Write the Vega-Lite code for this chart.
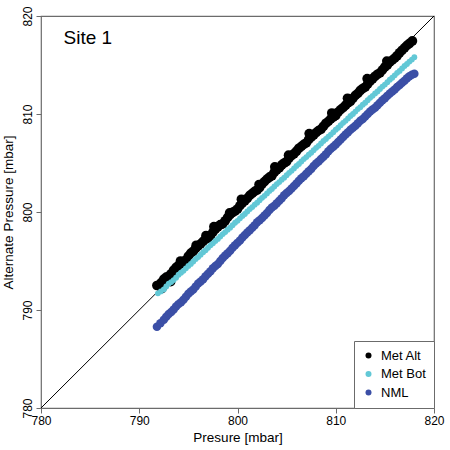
{
  "$schema": "https://vega.github.io/schema/vega-lite/v6.json",
  "width": 393,
  "height": 392,
  "autosize": {"type": "none"},
  "padding": {"left": 41, "top": 16, "right": 16, "bottom": 42},
  "config": {
    "font": "Liberation Sans",
    "view": {"stroke": "#6b6b6b", "strokeWidth": 1.2},
    "axis": {
      "grid": false,
      "domain": false,
      "tickColor": "#6b6b6b",
      "tickSize": 5,
      "labelFontSize": 12,
      "labelColor": "#000000",
      "titleFontSize": 13.5,
      "titleFontWeight": "normal",
      "titleColor": "#000000",
      "labelOverlap": false,
      "labelFlush": false,
      "labelBound": false
    }
  },
  "datasets": {
    "pts": [
      {"s": "Met Alt", "x": 791.8, "y": 792.5},
      {"s": "Met Alt", "x": 792.0, "y": 792.55},
      {"s": "Met Alt", "x": 792.25, "y": 792.8},
      {"s": "Met Alt", "x": 792.3, "y": 792.2},
      {"s": "Met Alt", "x": 792.5, "y": 793.15},
      {"s": "Met Alt", "x": 792.75, "y": 793.35},
      {"s": "Met Alt", "x": 793.0, "y": 793.45},
      {"s": "Met Alt", "x": 793.2, "y": 792.9},
      {"s": "Met Alt", "x": 793.25, "y": 793.7},
      {"s": "Met Alt", "x": 793.5, "y": 794.05},
      {"s": "Met Alt", "x": 793.75, "y": 794.35},
      {"s": "Met Alt", "x": 794.0, "y": 794.55},
      {"s": "Met Alt", "x": 794.2, "y": 795.0},
      {"s": "Met Alt", "x": 794.25, "y": 794.75},
      {"s": "Met Alt", "x": 794.5, "y": 794.85},
      {"s": "Met Alt", "x": 794.75, "y": 795.1},
      {"s": "Met Alt", "x": 795.0, "y": 795.5},
      {"s": "Met Alt", "x": 795.25, "y": 795.8},
      {"s": "Met Alt", "x": 795.5, "y": 796.0},
      {"s": "Met Alt", "x": 795.75, "y": 796.3},
      {"s": "Met Alt", "x": 795.8, "y": 796.6},
      {"s": "Met Alt", "x": 796.0, "y": 796.55},
      {"s": "Met Alt", "x": 796.25, "y": 796.75},
      {"s": "Met Alt", "x": 796.5, "y": 797.0},
      {"s": "Met Alt", "x": 796.75, "y": 797.25},
      {"s": "Met Alt", "x": 796.8, "y": 797.6},
      {"s": "Met Alt", "x": 797.0, "y": 797.35},
      {"s": "Met Alt", "x": 797.25, "y": 797.6},
      {"s": "Met Alt", "x": 797.5, "y": 797.95},
      {"s": "Met Alt", "x": 797.6, "y": 798.5},
      {"s": "Met Alt", "x": 797.75, "y": 798.25},
      {"s": "Met Alt", "x": 798.0, "y": 798.5},
      {"s": "Met Alt", "x": 798.25, "y": 798.7},
      {"s": "Met Alt", "x": 798.5, "y": 798.8},
      {"s": "Met Alt", "x": 798.75, "y": 799.1},
      {"s": "Met Alt", "x": 799.0, "y": 799.45},
      {"s": "Met Alt", "x": 799.2, "y": 799.9},
      {"s": "Met Alt", "x": 799.25, "y": 799.75},
      {"s": "Met Alt", "x": 799.5, "y": 799.95},
      {"s": "Met Alt", "x": 799.75, "y": 800.1},
      {"s": "Met Alt", "x": 800.0, "y": 800.3},
      {"s": "Met Alt", "x": 800.25, "y": 800.65},
      {"s": "Met Alt", "x": 800.4, "y": 801.3},
      {"s": "Met Alt", "x": 800.5, "y": 800.95},
      {"s": "Met Alt", "x": 800.75, "y": 801.15},
      {"s": "Met Alt", "x": 801.0, "y": 801.4},
      {"s": "Met Alt", "x": 801.25, "y": 801.7},
      {"s": "Met Alt", "x": 801.5, "y": 801.9},
      {"s": "Met Alt", "x": 801.75, "y": 802.1},
      {"s": "Met Alt", "x": 802.0, "y": 802.25},
      {"s": "Met Alt", "x": 802.2, "y": 802.8},
      {"s": "Met Alt", "x": 802.25, "y": 802.5},
      {"s": "Met Alt", "x": 802.5, "y": 802.85},
      {"s": "Met Alt", "x": 802.75, "y": 803.1},
      {"s": "Met Alt", "x": 803.0, "y": 803.35},
      {"s": "Met Alt", "x": 803.25, "y": 803.55},
      {"s": "Met Alt", "x": 803.5, "y": 803.7},
      {"s": "Met Alt", "x": 803.75, "y": 804.05},
      {"s": "Met Alt", "x": 803.8, "y": 804.6},
      {"s": "Met Alt", "x": 804.0, "y": 804.3},
      {"s": "Met Alt", "x": 804.25, "y": 804.5},
      {"s": "Met Alt", "x": 804.5, "y": 804.8},
      {"s": "Met Alt", "x": 804.75, "y": 805.0},
      {"s": "Met Alt", "x": 805.0, "y": 805.15},
      {"s": "Met Alt", "x": 805.2, "y": 805.8},
      {"s": "Met Alt", "x": 805.25, "y": 805.5},
      {"s": "Met Alt", "x": 805.5, "y": 805.75},
      {"s": "Met Alt", "x": 805.75, "y": 805.95},
      {"s": "Met Alt", "x": 806.0, "y": 806.2},
      {"s": "Met Alt", "x": 806.25, "y": 806.5},
      {"s": "Met Alt", "x": 806.5, "y": 806.7},
      {"s": "Met Alt", "x": 806.75, "y": 806.9},
      {"s": "Met Alt", "x": 807.0, "y": 807.05},
      {"s": "Met Alt", "x": 807.25, "y": 807.4},
      {"s": "Met Alt", "x": 807.3, "y": 808.0},
      {"s": "Met Alt", "x": 807.5, "y": 807.65},
      {"s": "Met Alt", "x": 807.75, "y": 807.85},
      {"s": "Met Alt", "x": 808.0, "y": 808.1},
      {"s": "Met Alt", "x": 808.25, "y": 808.3},
      {"s": "Met Alt", "x": 808.5, "y": 808.45},
      {"s": "Met Alt", "x": 808.75, "y": 808.75},
      {"s": "Met Alt", "x": 809.0, "y": 809.05},
      {"s": "Met Alt", "x": 809.25, "y": 809.25},
      {"s": "Met Alt", "x": 809.5, "y": 809.5},
      {"s": "Met Alt", "x": 809.6, "y": 810.1},
      {"s": "Met Alt", "x": 809.75, "y": 809.7},
      {"s": "Met Alt", "x": 810.0, "y": 809.85},
      {"s": "Met Alt", "x": 810.25, "y": 810.2},
      {"s": "Met Alt", "x": 810.5, "y": 810.45},
      {"s": "Met Alt", "x": 810.75, "y": 810.65},
      {"s": "Met Alt", "x": 811.0, "y": 810.9},
      {"s": "Met Alt", "x": 811.2, "y": 811.6},
      {"s": "Met Alt", "x": 811.25, "y": 811.15},
      {"s": "Met Alt", "x": 811.5, "y": 811.3},
      {"s": "Met Alt", "x": 811.75, "y": 811.6},
      {"s": "Met Alt", "x": 812.0, "y": 811.9},
      {"s": "Met Alt", "x": 812.25, "y": 812.1},
      {"s": "Met Alt", "x": 812.5, "y": 812.4},
      {"s": "Met Alt", "x": 812.75, "y": 812.6},
      {"s": "Met Alt", "x": 813.0, "y": 812.75},
      {"s": "Met Alt", "x": 813.2, "y": 813.6},
      {"s": "Met Alt", "x": 813.25, "y": 813.05},
      {"s": "Met Alt", "x": 813.5, "y": 813.35},
      {"s": "Met Alt", "x": 813.75, "y": 813.6},
      {"s": "Met Alt", "x": 814.0, "y": 813.85},
      {"s": "Met Alt", "x": 814.25, "y": 814.05},
      {"s": "Met Alt", "x": 814.5, "y": 814.2},
      {"s": "Met Alt", "x": 814.75, "y": 814.5},
      {"s": "Met Alt", "x": 815.0, "y": 814.8},
      {"s": "Met Alt", "x": 815.2, "y": 815.4},
      {"s": "Met Alt", "x": 815.25, "y": 815.0},
      {"s": "Met Alt", "x": 815.5, "y": 815.3},
      {"s": "Met Alt", "x": 815.75, "y": 815.5},
      {"s": "Met Alt", "x": 816.0, "y": 815.7},
      {"s": "Met Alt", "x": 816.25, "y": 815.95},
      {"s": "Met Alt", "x": 816.5, "y": 816.25},
      {"s": "Met Alt", "x": 816.75, "y": 816.5},
      {"s": "Met Alt", "x": 817.0, "y": 816.75},
      {"s": "Met Alt", "x": 817.25, "y": 817.0},
      {"s": "Met Alt", "x": 817.5, "y": 817.2},
      {"s": "Met Alt", "x": 817.8, "y": 817.45},
      {"s": "Met Bot", "x": 791.9, "y": 791.7},
      {"s": "Met Bot", "x": 792.2, "y": 791.9},
      {"s": "Met Bot", "x": 792.5, "y": 792.1},
      {"s": "Met Bot", "x": 792.75, "y": 792.4},
      {"s": "Met Bot", "x": 793.0, "y": 792.7},
      {"s": "Met Bot", "x": 793.25, "y": 792.85},
      {"s": "Met Bot", "x": 793.5, "y": 793.05},
      {"s": "Met Bot", "x": 793.75, "y": 793.3},
      {"s": "Met Bot", "x": 794.0, "y": 793.6},
      {"s": "Met Bot", "x": 794.25, "y": 793.8},
      {"s": "Met Bot", "x": 794.5, "y": 794.0},
      {"s": "Met Bot", "x": 794.75, "y": 794.25},
      {"s": "Met Bot", "x": 795.0, "y": 794.5},
      {"s": "Met Bot", "x": 795.25, "y": 794.7},
      {"s": "Met Bot", "x": 795.5, "y": 794.95},
      {"s": "Met Bot", "x": 795.75, "y": 795.2},
      {"s": "Met Bot", "x": 796.0, "y": 795.4},
      {"s": "Met Bot", "x": 796.25, "y": 795.65},
      {"s": "Met Bot", "x": 796.5, "y": 795.9},
      {"s": "Met Bot", "x": 796.75, "y": 796.1},
      {"s": "Met Bot", "x": 797.0, "y": 796.35},
      {"s": "Met Bot", "x": 797.25, "y": 796.6},
      {"s": "Met Bot", "x": 797.5, "y": 796.8},
      {"s": "Met Bot", "x": 797.75, "y": 797.05},
      {"s": "Met Bot", "x": 798.0, "y": 797.25},
      {"s": "Met Bot", "x": 798.25, "y": 797.5},
      {"s": "Met Bot", "x": 798.5, "y": 797.75},
      {"s": "Met Bot", "x": 798.75, "y": 797.95},
      {"s": "Met Bot", "x": 799.0, "y": 798.2},
      {"s": "Met Bot", "x": 799.25, "y": 798.4},
      {"s": "Met Bot", "x": 799.5, "y": 798.65},
      {"s": "Met Bot", "x": 799.75, "y": 798.9},
      {"s": "Met Bot", "x": 800.0, "y": 799.1},
      {"s": "Met Bot", "x": 800.25, "y": 799.35},
      {"s": "Met Bot", "x": 800.5, "y": 799.6},
      {"s": "Met Bot", "x": 800.75, "y": 799.8},
      {"s": "Met Bot", "x": 801.0, "y": 800.05},
      {"s": "Met Bot", "x": 801.25, "y": 800.3},
      {"s": "Met Bot", "x": 801.5, "y": 800.5},
      {"s": "Met Bot", "x": 801.75, "y": 800.75},
      {"s": "Met Bot", "x": 802.0, "y": 800.95},
      {"s": "Met Bot", "x": 802.25, "y": 801.2},
      {"s": "Met Bot", "x": 802.5, "y": 801.45},
      {"s": "Met Bot", "x": 802.75, "y": 801.65},
      {"s": "Met Bot", "x": 803.0, "y": 801.9},
      {"s": "Met Bot", "x": 803.25, "y": 802.15},
      {"s": "Met Bot", "x": 803.5, "y": 802.35},
      {"s": "Met Bot", "x": 803.75, "y": 802.6},
      {"s": "Met Bot", "x": 804.0, "y": 802.85},
      {"s": "Met Bot", "x": 804.25, "y": 803.05},
      {"s": "Met Bot", "x": 804.5, "y": 803.3},
      {"s": "Met Bot", "x": 804.75, "y": 803.5},
      {"s": "Met Bot", "x": 805.0, "y": 803.75},
      {"s": "Met Bot", "x": 805.25, "y": 804.0},
      {"s": "Met Bot", "x": 805.5, "y": 804.2},
      {"s": "Met Bot", "x": 805.75, "y": 804.45},
      {"s": "Met Bot", "x": 806.0, "y": 804.7},
      {"s": "Met Bot", "x": 806.25, "y": 804.9},
      {"s": "Met Bot", "x": 806.5, "y": 805.15},
      {"s": "Met Bot", "x": 806.75, "y": 805.4},
      {"s": "Met Bot", "x": 807.0, "y": 805.6},
      {"s": "Met Bot", "x": 807.25, "y": 805.85},
      {"s": "Met Bot", "x": 807.5, "y": 806.05},
      {"s": "Met Bot", "x": 807.75, "y": 806.3},
      {"s": "Met Bot", "x": 808.0, "y": 806.55},
      {"s": "Met Bot", "x": 808.25, "y": 806.75},
      {"s": "Met Bot", "x": 808.5, "y": 807.0},
      {"s": "Met Bot", "x": 808.75, "y": 807.25},
      {"s": "Met Bot", "x": 809.0, "y": 807.45},
      {"s": "Met Bot", "x": 809.25, "y": 807.7},
      {"s": "Met Bot", "x": 809.5, "y": 807.9},
      {"s": "Met Bot", "x": 809.75, "y": 808.15},
      {"s": "Met Bot", "x": 810.0, "y": 808.4},
      {"s": "Met Bot", "x": 810.25, "y": 808.6},
      {"s": "Met Bot", "x": 810.5, "y": 808.85},
      {"s": "Met Bot", "x": 810.75, "y": 809.1},
      {"s": "Met Bot", "x": 811.0, "y": 809.3},
      {"s": "Met Bot", "x": 811.25, "y": 809.55},
      {"s": "Met Bot", "x": 811.5, "y": 809.8},
      {"s": "Met Bot", "x": 811.75, "y": 810.0},
      {"s": "Met Bot", "x": 812.0, "y": 810.25},
      {"s": "Met Bot", "x": 812.25, "y": 810.5},
      {"s": "Met Bot", "x": 812.5, "y": 810.7},
      {"s": "Met Bot", "x": 812.75, "y": 810.95},
      {"s": "Met Bot", "x": 813.0, "y": 811.15},
      {"s": "Met Bot", "x": 813.25, "y": 811.4},
      {"s": "Met Bot", "x": 813.5, "y": 811.65},
      {"s": "Met Bot", "x": 813.75, "y": 811.85},
      {"s": "Met Bot", "x": 814.0, "y": 812.1},
      {"s": "Met Bot", "x": 814.25, "y": 812.3},
      {"s": "Met Bot", "x": 814.5, "y": 812.55},
      {"s": "Met Bot", "x": 814.75, "y": 812.8},
      {"s": "Met Bot", "x": 815.0, "y": 813.0},
      {"s": "Met Bot", "x": 815.25, "y": 813.25},
      {"s": "Met Bot", "x": 815.5, "y": 813.5},
      {"s": "Met Bot", "x": 815.75, "y": 813.7},
      {"s": "Met Bot", "x": 816.0, "y": 813.95},
      {"s": "Met Bot", "x": 816.25, "y": 814.2},
      {"s": "Met Bot", "x": 816.5, "y": 814.4},
      {"s": "Met Bot", "x": 816.75, "y": 814.65},
      {"s": "Met Bot", "x": 817.0, "y": 814.9},
      {"s": "Met Bot", "x": 817.25, "y": 815.1},
      {"s": "Met Bot", "x": 817.5, "y": 815.35},
      {"s": "Met Bot", "x": 817.75, "y": 815.55},
      {"s": "Met Bot", "x": 818.0, "y": 815.8},
      {"s": "NML", "x": 791.8, "y": 788.3},
      {"s": "NML", "x": 792.15, "y": 788.65},
      {"s": "NML", "x": 792.5, "y": 789.0},
      {"s": "NML", "x": 792.75, "y": 789.3},
      {"s": "NML", "x": 793.0, "y": 789.6},
      {"s": "NML", "x": 793.25, "y": 789.8},
      {"s": "NML", "x": 793.5, "y": 790.05},
      {"s": "NML", "x": 793.75, "y": 790.35},
      {"s": "NML", "x": 794.0, "y": 790.6},
      {"s": "NML", "x": 794.25, "y": 790.8},
      {"s": "NML", "x": 794.5, "y": 791.05},
      {"s": "NML", "x": 794.75, "y": 791.35},
      {"s": "NML", "x": 795.0, "y": 791.65},
      {"s": "NML", "x": 795.25, "y": 791.9},
      {"s": "NML", "x": 795.5, "y": 792.1},
      {"s": "NML", "x": 795.75, "y": 792.4},
      {"s": "NML", "x": 796.0, "y": 792.7},
      {"s": "NML", "x": 796.25, "y": 792.9},
      {"s": "NML", "x": 796.5, "y": 793.15},
      {"s": "NML", "x": 796.75, "y": 793.45},
      {"s": "NML", "x": 797.0, "y": 793.7},
      {"s": "NML", "x": 797.25, "y": 793.95},
      {"s": "NML", "x": 797.5, "y": 794.25},
      {"s": "NML", "x": 797.75, "y": 794.5},
      {"s": "NML", "x": 798.0, "y": 794.7},
      {"s": "NML", "x": 798.25, "y": 795.0},
      {"s": "NML", "x": 798.5, "y": 795.3},
      {"s": "NML", "x": 798.75, "y": 795.55},
      {"s": "NML", "x": 799.0, "y": 795.8},
      {"s": "NML", "x": 799.25, "y": 796.05},
      {"s": "NML", "x": 799.5, "y": 796.35},
      {"s": "NML", "x": 799.75, "y": 796.6},
      {"s": "NML", "x": 800.0, "y": 796.85},
      {"s": "NML", "x": 800.25, "y": 797.1},
      {"s": "NML", "x": 800.5, "y": 797.4},
      {"s": "NML", "x": 800.75, "y": 797.65},
      {"s": "NML", "x": 801.0, "y": 797.9},
      {"s": "NML", "x": 801.25, "y": 798.15},
      {"s": "NML", "x": 801.5, "y": 798.4},
      {"s": "NML", "x": 801.75, "y": 798.65},
      {"s": "NML", "x": 802.0, "y": 798.95},
      {"s": "NML", "x": 802.25, "y": 799.15},
      {"s": "NML", "x": 802.5, "y": 799.4},
      {"s": "NML", "x": 802.75, "y": 799.65},
      {"s": "NML", "x": 803.0, "y": 799.9},
      {"s": "NML", "x": 803.25, "y": 800.2},
      {"s": "NML", "x": 803.5, "y": 800.45},
      {"s": "NML", "x": 803.75, "y": 800.65},
      {"s": "NML", "x": 804.0, "y": 800.9},
      {"s": "NML", "x": 804.25, "y": 801.15},
      {"s": "NML", "x": 804.5, "y": 801.4},
      {"s": "NML", "x": 804.75, "y": 801.7},
      {"s": "NML", "x": 805.0, "y": 801.95},
      {"s": "NML", "x": 805.25, "y": 802.15},
      {"s": "NML", "x": 805.5, "y": 802.4},
      {"s": "NML", "x": 805.75, "y": 802.65},
      {"s": "NML", "x": 806.0, "y": 802.9},
      {"s": "NML", "x": 806.25, "y": 803.2},
      {"s": "NML", "x": 806.5, "y": 803.45},
      {"s": "NML", "x": 806.75, "y": 803.65},
      {"s": "NML", "x": 807.0, "y": 803.9},
      {"s": "NML", "x": 807.25, "y": 804.15},
      {"s": "NML", "x": 807.5, "y": 804.4},
      {"s": "NML", "x": 807.75, "y": 804.7},
      {"s": "NML", "x": 808.0, "y": 804.95},
      {"s": "NML", "x": 808.25, "y": 805.15},
      {"s": "NML", "x": 808.5, "y": 805.4},
      {"s": "NML", "x": 808.75, "y": 805.65},
      {"s": "NML", "x": 809.0, "y": 805.9},
      {"s": "NML", "x": 809.25, "y": 806.2},
      {"s": "NML", "x": 809.5, "y": 806.45},
      {"s": "NML", "x": 809.75, "y": 806.65},
      {"s": "NML", "x": 810.0, "y": 806.9},
      {"s": "NML", "x": 810.25, "y": 807.15},
      {"s": "NML", "x": 810.5, "y": 807.4},
      {"s": "NML", "x": 810.75, "y": 807.65},
      {"s": "NML", "x": 811.0, "y": 807.9},
      {"s": "NML", "x": 811.25, "y": 808.15},
      {"s": "NML", "x": 811.5, "y": 808.4},
      {"s": "NML", "x": 811.75, "y": 808.6},
      {"s": "NML", "x": 812.0, "y": 808.8},
      {"s": "NML", "x": 812.25, "y": 809.05},
      {"s": "NML", "x": 812.5, "y": 809.3},
      {"s": "NML", "x": 812.75, "y": 809.5},
      {"s": "NML", "x": 813.0, "y": 809.75},
      {"s": "NML", "x": 813.25, "y": 810.0},
      {"s": "NML", "x": 813.5, "y": 810.25},
      {"s": "NML", "x": 813.75, "y": 810.45},
      {"s": "NML", "x": 814.0, "y": 810.65},
      {"s": "NML", "x": 814.25, "y": 810.9},
      {"s": "NML", "x": 814.5, "y": 811.15},
      {"s": "NML", "x": 814.75, "y": 811.4},
      {"s": "NML", "x": 815.0, "y": 811.6},
      {"s": "NML", "x": 815.25, "y": 811.85},
      {"s": "NML", "x": 815.5, "y": 812.1},
      {"s": "NML", "x": 815.75, "y": 812.3},
      {"s": "NML", "x": 816.0, "y": 812.5},
      {"s": "NML", "x": 816.25, "y": 812.75},
      {"s": "NML", "x": 816.5, "y": 812.95},
      {"s": "NML", "x": 816.75, "y": 813.2},
      {"s": "NML", "x": 817.0, "y": 813.4},
      {"s": "NML", "x": 817.25, "y": 813.65},
      {"s": "NML", "x": 817.5, "y": 813.85},
      {"s": "NML", "x": 817.75, "y": 814.0},
      {"s": "NML", "x": 818.0, "y": 814.1}
    ],
    "diag": [
      {"x": 780, "y": 780},
      {"x": 820, "y": 820}
    ],
    "note": [
      {"label": "Site 1", "x": 782.3, "y": 817.8}
    ]
  },
  "encoding": {
    "x": {
      "field": "x",
      "type": "quantitative",
      "title": "Presure [mbar]",
      "scale": {"domain": [780, 820], "nice": false, "zero": false},
      "axis": {"values": [780, 790, 800, 810, 820], "labelPadding": 2, "titlePadding": 4}
    },
    "y": {
      "field": "y",
      "type": "quantitative",
      "title": "Alternate Pressure [mbar]",
      "scale": {"domain": [780, 820], "nice": false, "zero": false},
      "axis": {
        "values": [780, 790, 800, 810, 820],
        "labelAngle": -90,
        "labelAlign": "center",
        "labelBaseline": "bottom",
        "labelPadding": 2,
        "titlePadding": 6
      }
    }
  },
  "layer": [
    {
      "data": {"name": "diag"},
      "mark": {"type": "line", "color": "#000000", "strokeWidth": 1, "clip": true}
    },
    {
      "data": {"name": "pts"},
      "transform": [{"filter": "datum.s === 'Met Alt'"}],
      "mark": {"type": "circle", "opacity": 1, "size": 95},
      "encoding": {
        "color": {
          "field": "s",
          "type": "nominal",
          "title": null,
          "scale": {"domain": ["Met Alt", "Met Bot", "NML"], "range": ["#000000", "#62c8d6", "#3b4fa6"]},
          "legend": {
            "orient": "bottom-right",
            "offset": 0,
            "strokeColor": "#6b6b6b",
            "fillColor": "#ffffff",
            "padding": 8,
            "symbolType": "circle",
            "symbolSize": 36,
            "labelFontSize": 13,
            "labelOffset": 6,
            "rowPadding": 4.5
          }
        }
      }
    },
    {
      "data": {"name": "pts"},
      "transform": [{"filter": "datum.s === 'Met Bot'"}],
      "mark": {"type": "circle", "opacity": 1, "size": 34},
      "encoding": {
        "color": {"field": "s", "type": "nominal"}
      }
    },
    {
      "data": {"name": "pts"},
      "transform": [{"filter": "datum.s === 'NML'"}],
      "mark": {"type": "circle", "opacity": 1, "size": 72},
      "encoding": {
        "color": {"field": "s", "type": "nominal"}
      }
    },
    {
      "data": {"name": "note"},
      "mark": {"type": "text", "align": "left", "baseline": "middle", "fontSize": 19, "font": "Liberation Sans"},
      "encoding": {
        "text": {"field": "label"}
      }
    }
  ]
}
